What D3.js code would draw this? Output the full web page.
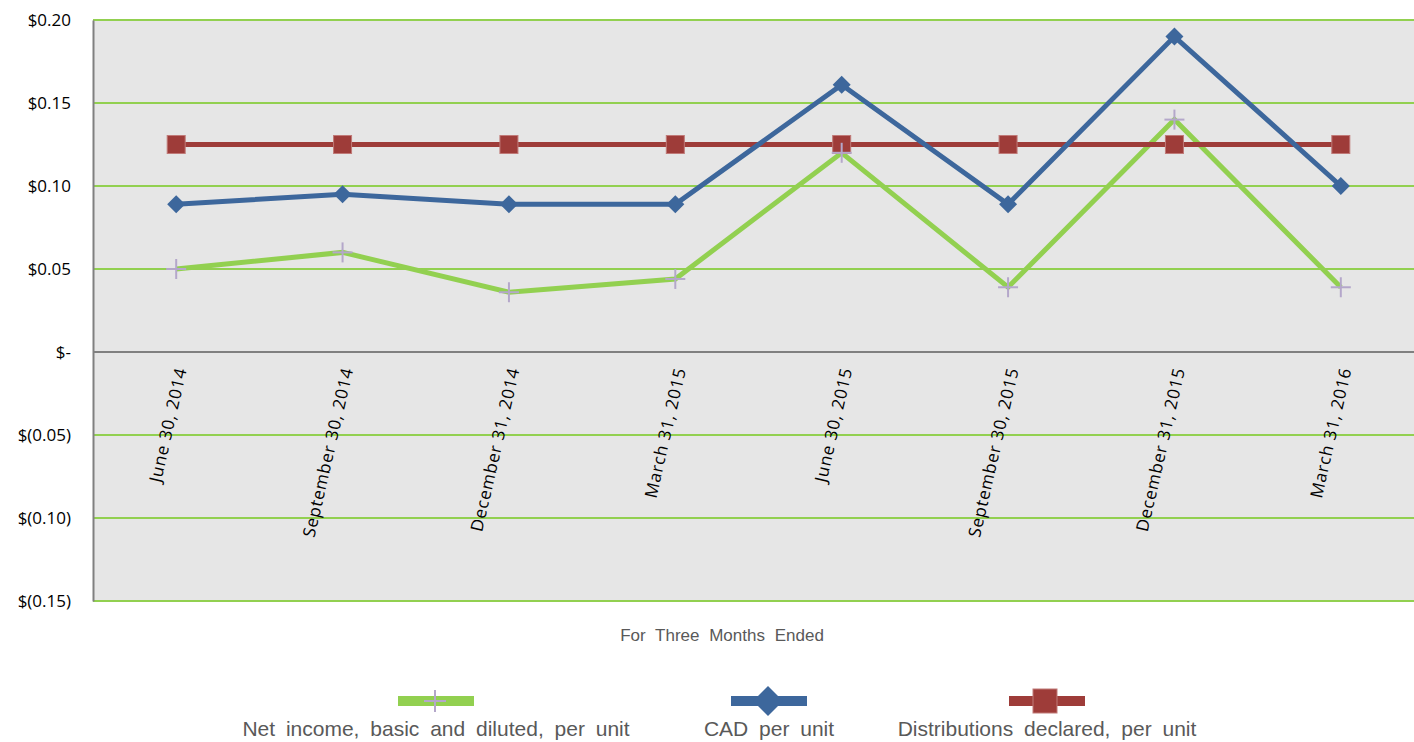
<!DOCTYPE html>
<html>
<head>
<meta charset="utf-8">
<script src="https://cdn.jsdelivr.net/npm/d3@7"></script>
<style>
  body { margin: 0; background: #fff; }
  svg { display: block; }
</style>
</head>
<body>
<div id="chart"></div>
<script>

// data
var quarters = ["June 30, 2014", "September 30, 2014", "December 31, 2014", "March 31, 2015",
                "June 30, 2015", "September 30, 2015", "December 31, 2015", "March 31, 2016"];
var netIncome = [0.050, 0.060, 0.036, 0.044, 0.120, 0.039, 0.140, 0.039];
var cadPerUnit = [0.089, 0.095, 0.089, 0.089, 0.161, 0.089, 0.190, 0.100];
var distributions = [0.125, 0.125, 0.125, 0.125, 0.125, 0.125, 0.125, 0.125];
var yTicks = [0.20, 0.15, 0.10, 0.05, 0, -0.05, -0.10, -0.15];
var yTickLabels = ["$0.20", "$0.15", "$0.10", "$0.05", "$-", "$(0.05)", "$(0.10)", "$(0.15)"];
var seriesNames = ["Net income, basic and diluted, per unit", "CAD per unit", "Distributions declared, per unit"];

var W = 1414, H = 742;
var plotLeft = 93, plotRight = 1424, plotTop = 20, plotBottom = 601;

var svg = d3.select("#chart").append("svg")
  .attr("width", W)
  .attr("height", H);

var xScale = d3.scalePoint().domain(quarters).range([plotLeft, plotRight]).padding(0.5);
var yScale = d3.scaleLinear().domain([-0.15, 0.20]).range([plotBottom, plotTop]);

// plot background
svg.append("rect")
  .attr("x", plotLeft).attr("y", plotTop)
  .attr("width", W - plotLeft).attr("height", plotBottom - plotTop)
  .attr("fill", "#e6e6e6");

// gridlines
svg.append("g").selectAll("line")
  .data(yTicks.filter(function(d) { return d !== 0; }))
  .enter().append("line")
  .attr("x1", plotLeft).attr("x2", W)
  .attr("y1", function(d) { return yScale(d); })
  .attr("y2", function(d) { return yScale(d); })
  .attr("stroke", "#92d050")
  .attr("stroke-width", 2);

// zero line
svg.append("line")
  .attr("x1", plotLeft).attr("x2", W)
  .attr("y1", yScale(0)).attr("y2", yScale(0))
  .attr("stroke", "#808080").attr("stroke-width", 2);

// y axis
var yAxis = d3.axisLeft(yScale)
  .tickValues(yTicks)
  .tickSize(0)
  .tickPadding(22)
  .tickFormat(function(d, i) { return yTickLabels[i]; });

var gy = svg.append("g")
  .attr("transform", "translate(" + plotLeft + ",0)")
  .call(yAxis);
gy.select(".domain").attr("stroke", "#808080").attr("stroke-width", 2);
gy.selectAll("text")
  .attr("fill", "#000")
  .style("font-family", "'Open Sans', 'Liberation Sans', sans-serif")
  .style("font-size", "17px");

// x labels (rotated, hanging below zero line)
svg.append("g").selectAll("text")
  .data(quarters)
  .enter().append("text")
  .attr("transform", function(d) {
    return "translate(" + (xScale(d) + 5) + "," + 368 + ") rotate(-77)";
  })
  .attr("text-anchor", "end")
  .attr("dy", "0.35em")
  .style("font-family", "'Open Sans', 'Liberation Sans', sans-serif")
  .style("font-size", "17px")
  .style("letter-spacing", "0.8px")
  .attr("fill", "#000")
  .text(function(d) { return d; });

// axis title
svg.append("text")
  .attr("x", 722).attr("y", 641)
  .attr("text-anchor", "middle")
  .style("font-family", "'Liberation Sans', Arial, sans-serif")
  .style("font-size", "17px")
  .style("word-spacing", "5px")
  .attr("fill", "#595959")
  .text("For Three Months Ended");

var line = d3.line()
  .x(function(d, i) { return xScale(quarters[i]); })
  .y(function(d) { return yScale(d); });

var colors = ["#92d050", "#3d679c", "#9e3c39"];
var allSeries = [netIncome, cadPerUnit, distributions];

// lines: draw net income, then distributions, then CAD on top
[0, 2, 1].forEach(function(k) {
  svg.append("path")
    .datum(allSeries[k])
    .attr("d", line)
    .attr("fill", "none")
    .attr("stroke", colors[k])
    .attr("stroke-width", 5)
    .attr("stroke-linejoin", "miter");
});

function plusMarker(g, x, y, s) {
  g.append("line").attr("x1", x - s).attr("x2", x + s).attr("y1", y).attr("y2", y)
    .attr("stroke", "#b4a7ca").attr("stroke-width", 2);
  g.append("line").attr("x1", x).attr("x2", x).attr("y1", y - s).attr("y2", y + s)
    .attr("stroke", "#b4a7ca").attr("stroke-width", 2);
}
function diamondMarker(g, x, y, s) {
  g.append("path")
    .attr("d", "M" + x + "," + (y - s) + "L" + (x + s) + "," + y + "L" + x + "," + (y + s) + "L" + (x - s) + "," + y + "Z")
    .attr("fill", colors[1]);
}
function squareMarker(g, x, y, s) {
  g.append("rect")
    .attr("x", x - s).attr("y", y - s).attr("width", 2 * s).attr("height", 2 * s)
    .attr("fill", colors[2])
    .attr("stroke", "#c07a78").attr("stroke-width", 1);
}

var markers = svg.append("g");
distributions.forEach(function(d, i) { squareMarker(markers, xScale(quarters[i]), yScale(d), 9); });
cadPerUnit.forEach(function(d, i) { diamondMarker(markers, xScale(quarters[i]), yScale(d), 9); });
netIncome.forEach(function(d, i) { plusMarker(markers, xScale(quarters[i]), yScale(d), 10); });

// legend
var legendX = [436, 769, 1047];
var legend = svg.append("g");
legendX.forEach(function(cx, k) {
  legend.append("rect")
    .attr("x", cx - 38).attr("y", 696).attr("width", 76).attr("height", 10)
    .attr("fill", colors[k]);
  if (k === 0) plusMarker(legend, cx - 1, 701, 11);
  if (k === 1) diamondMarker(legend, cx - 1, 701, 15);
  if (k === 2) squareMarker(legend, cx - 2, 701, 12);
  legend.append("text")
    .attr("x", cx).attr("y", 736)
    .attr("text-anchor", "middle")
    .style("font-family", "'Liberation Sans', Arial, sans-serif")
    .style("font-size", "21px")
    .style("word-spacing", "5px")
    .attr("fill", "#595959")
    .text(seriesNames[k]);
});

</script>
</body>
</html>
